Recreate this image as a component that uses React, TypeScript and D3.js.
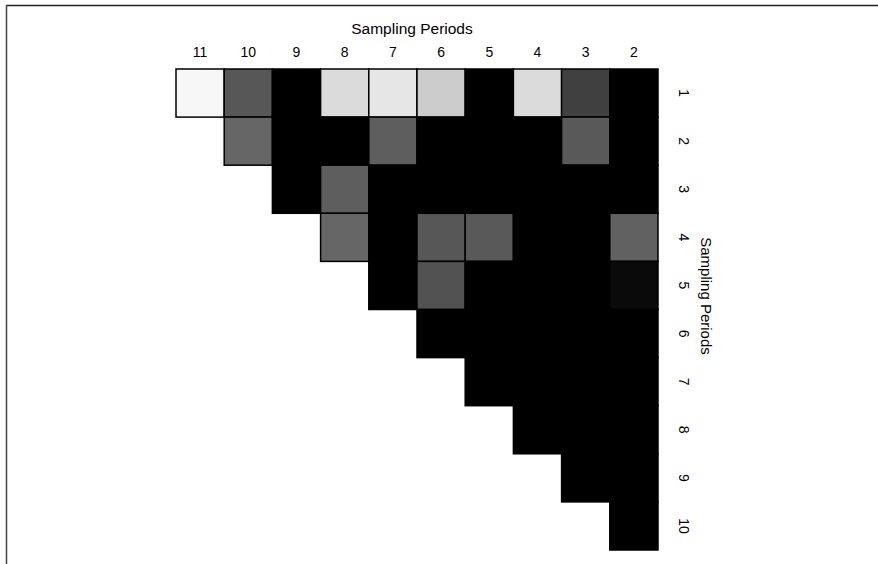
import React from "react";
import * as d3 from "d3";

// Column periods (left to right) and row periods (top to bottom)
const columnPeriods = [11, 10, 9, 8, 7, 6, 5, 4, 3, 2];
const rowPeriods = [1, 2, 3, 4, 5, 6, 7, 8, 9, 10];

// Shade per cell (0 = black, 1 = white); row r covers columns 12-r down to 2
const row1 = [0.97, 0.34, 0, 0.86, 0.9, 0.8, 0, 0.86, 0.25, 0];
const row2 = [0.4, 0, 0, 0.37, 0, 0, 0, 0.35, 0];
const row3 = [0, 0.37, 0, 0, 0, 0, 0, 0];
const row4 = [0.4, 0, 0.34, 0.35, 0, 0, 0.38];
const row5 = [0, 0.32, 0, 0, 0, 0.04];
const row6 = [0, 0, 0, 0, 0];
const row7 = [0, 0, 0, 0];
const row8 = [0, 0, 0];
const row9 = [0, 0];
const row10 = [0];

const rowValues = [row1, row2, row3, row4, row5, row6, row7, row8, row9, row10];

const axisTitle = "Sampling Periods";

const W = 878;
const H = 564;
const left = 176;
const right = 658;
const top = 69;
const bottom = 550;

export default function App() {
  const x = d3.scaleBand<number>().domain(columnPeriods).range([left, right]).padding(0);
  const y = d3.scaleBand<number>().domain(rowPeriods).range([top, bottom]).padding(0);
  const shade = d3.scaleLinear<string>().domain([0, 1]).range(["#000000", "#ffffff"]);

  const cells: { r: number; c: number; v: number }[] = [];
  rowValues.forEach((vals, ri) => {
    const r = rowPeriods[ri];
    const startCol = 12 - r;
    vals.forEach((v, k) => {
      cells.push({ r, c: startCol - k, v });
    });
  });

  const font = "'Liberation Sans', Arial, Helvetica, sans-serif";
  const labelX = 684;
  const titleX = 706;

  return (
    <svg
      width={W}
      height={H}
      style={{ position: "absolute", left: 0, top: 0, background: "#fff" }}
      fontFamily={font}
    >
      <rect x={0} y={0} width={W} height={H} fill="#fff" />
      {/* frame */}
      <line x1={6} y1={5.5} x2={W} y2={5.5} stroke="#222" strokeWidth={1.5} />
      <line x1={6.5} y1={5} x2={6.5} y2={H} stroke="#444" strokeWidth={1.5} />

      {/* cells */}
      <g>
        {cells.map((d) => (
          <rect
            key={`${d.r}-${d.c}`}
            x={x(d.c)!}
            y={y(d.r)!}
            width={x.bandwidth()}
            height={y.bandwidth()}
            fill={shade(d.v)}
            stroke="#000"
            strokeWidth={1.5}
          />
        ))}
      </g>

      {/* top axis */}
      <text x={412} y={34} textAnchor="middle" fontSize={15.5} fill="#000">
        {axisTitle}
      </text>
      {columnPeriods.map((c) => (
        <text
          key={c}
          x={x(c)! + x.bandwidth() / 2}
          y={57}
          textAnchor="middle"
          fontSize={14}
          fill="#000"
        >
          {c}
        </text>
      ))}

      {/* right axis, rotated */}
      {rowPeriods.map((r) => (
        <text
          key={r}
          transform={`translate(${labelX - 5},${y(r)! + y.bandwidth() / 2}) rotate(90)`}
          textAnchor="middle"
          fontSize={14}
          fill="#000"
        >
          {r}
        </text>
      ))}
      <text
        transform={`translate(${titleX - 5.5},${296}) rotate(90)`}
        textAnchor="middle"
        fontSize={15}
        fill="#000"
      >
        {axisTitle}
      </text>
    </svg>
  );
}
